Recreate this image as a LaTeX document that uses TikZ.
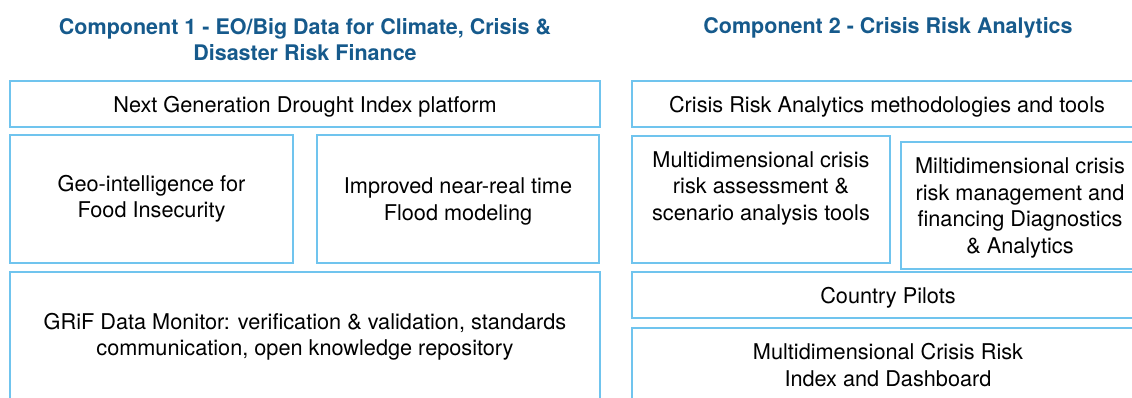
\documentclass[tikz,border=0pt]{standalone}
\usepackage{fontspec}
\setmainfont{TeX Gyre Heros}
\usepackage{xcolor}
\definecolor{boxline}{RGB}{112,196,238}
\definecolor{titleblue}{RGB}{22,90,140}

\begin{document}
\begin{tikzpicture}[x=1pt,y=-1pt,
	box/.style={draw=boxline,line width=1.3pt,rectangle,align=center,inner sep=0pt,
		font=\fontsize{21.7}{26.5}\selectfont},
	ttl/.style={align=center,text=titleblue,font=\fontsize{21.5}{26}\selectfont\bfseries}]
			\useasboundingbox (0,0) rectangle (1132,398);
			\clip (0,0) rectangle (1132,398);
			\node[ttl] (t1) at (305,40) {Component 1 - EO/Big Data for Climate, Crisis \&\\Disaster Risk Finance};
			\node[ttl] (t2) at (888,28) {Component 2 - Crisis Risk Analytics};
			\node[box,minimum width=590,minimum height=46,text depth=0pt] (ng) at (305,104) {Next Generation Drought Index platform};
			\node[box,minimum width=283,minimum height=128] (geo) at (151.5,199) {Geo-intelligence for\\Food Insecurity};
			\node[box,minimum width=282,minimum height=128,text depth=0pt] (flood) at (458,199) {Improved near-real time\\Flood modeling};
			\node[box,minimum width=590,minimum height=130] (grif) at (305,337) {GRiF Data Monitor: verification \& validation, standards\\communication, open knowledge repository};
			\node[box,minimum width=510,minimum height=46,text depth=0pt] (cra) at (887,104) {Crisis Risk Analytics methodologies and tools};
			\node[box,minimum width=258,minimum height=127,text depth=27pt] (mone) at (761,199.5) {Multidimensional crisis\\risk assessment \&\\scenario analysis tools};
			\node[box,minimum width=238,minimum height=127,text depth=-5pt] (mtwo) at (1020,205.5) {Miltidimensional crisis\\risk management and\\financing Diagnostics\\\& Analytics};
			\node[box,minimum width=512,minimum height=46,text depth=0pt] (cp) at (888,295) {Country Pilots};
			\node[box,minimum width=512,minimum height=74] (idx) at (888,365) {Multidimensional Crisis Risk\\Index and Dashboard};
		\end{tikzpicture}
\end{document}
